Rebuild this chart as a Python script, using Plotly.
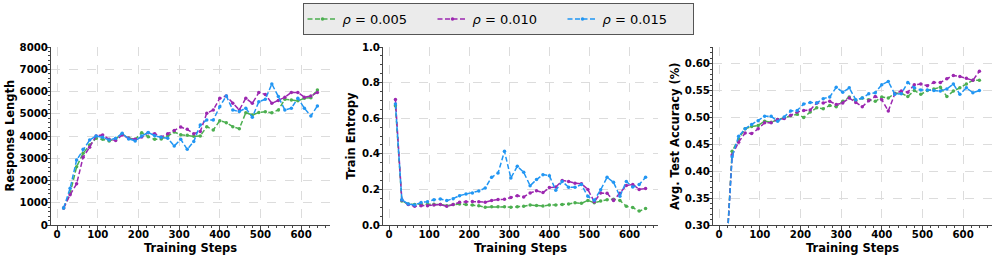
import plotly.graph_objects as go

steps = [16, 32, 48, 64, 80, 96, 112, 128, 144, 160, 176, 192, 208, 224, 240, 256,
         272, 288, 304, 320, 336, 352, 368, 384, 400, 416, 432, 448, 464, 480, 496,
         512, 528, 544, 560, 576, 592, 608, 624, 640]

series_names = ["<i>ρ</i> = 0.005", "<i>ρ</i> = 0.010", "<i>ρ</i> = 0.015"]
series_colors = ["#4CAF50", "#9C27B0", "#2196F3"]

len_005 = [760, 1420, 2620, 3220, 3600, 3900, 3850, 3780, 3880, 4090,
           3910, 3850, 4150, 3970, 3850, 3870, 4000, 4180, 4060, 4030,
           3985, 4000, 4420, 4270, 4690, 4600, 4420, 4330, 5050, 4940,
           5060, 5090, 5050, 5170, 5650, 5620, 5580, 5700, 5720, 6070]
len_010 = [760, 1360, 1850, 3050, 3500, 4000, 4050, 3850, 3800, 4050,
           3900, 3850, 3950, 4150, 4100, 3950, 4100, 4250, 4400, 4300,
           4100, 4200, 5020, 5170, 5700, 5800, 5470, 5170, 5700, 5470,
           5950, 5870, 5470, 5590, 5740, 5960, 5960, 5740, 5800, 5960]
len_015 = [760, 1650, 2920, 3400, 3820, 4000, 3940, 3820, 3900, 4120,
           3870, 3780, 4000, 4160, 4010, 3940, 3900, 3550, 3850, 3400,
           3750, 4500, 4720, 4720, 5320, 5800, 5170, 5100, 5250, 4840,
           5540, 5650, 6340, 5770, 5170, 5250, 5700, 5250, 4900, 5350]

ent_005 = [0.670, 0.135, 0.118, 0.115, 0.117, 0.115, 0.117, 0.115, 0.108, 0.115,
           0.118, 0.115, 0.112, 0.108, 0.100, 0.102, 0.102, 0.102, 0.100, 0.102,
           0.105, 0.112, 0.110, 0.107, 0.112, 0.112, 0.115, 0.118, 0.125, 0.122,
           0.138, 0.125, 0.135, 0.142, 0.145, 0.138, 0.105, 0.098, 0.078, 0.092]
ent_010 = [0.705, 0.140, 0.115, 0.105, 0.108, 0.108, 0.112, 0.115, 0.105, 0.115,
           0.128, 0.130, 0.132, 0.130, 0.128, 0.138, 0.143, 0.145, 0.155, 0.165,
           0.158, 0.180, 0.192, 0.182, 0.210, 0.213, 0.250, 0.245, 0.235, 0.232,
           0.200, 0.130, 0.180, 0.178, 0.138, 0.178, 0.222, 0.228, 0.200, 0.205]
ent_015 = [0.680, 0.142, 0.118, 0.112, 0.127, 0.131, 0.142, 0.146, 0.137, 0.148,
           0.165, 0.174, 0.180, 0.191, 0.208, 0.268, 0.292, 0.414, 0.264, 0.330,
           0.296, 0.221, 0.255, 0.283, 0.277, 0.195, 0.245, 0.212, 0.212, 0.227,
           0.161, 0.139, 0.198, 0.268, 0.240, 0.161, 0.245, 0.213, 0.227, 0.268]

acc_005 = [0.220, 0.437, 0.460, 0.479, 0.483, 0.485, 0.493, 0.491, 0.496, 0.499,
           0.503, 0.506, 0.500, 0.510, 0.518, 0.516, 0.522, 0.520, 0.530, 0.538,
           0.531, 0.536, 0.533, 0.530, 0.538, 0.536, 0.545, 0.545, 0.539, 0.550,
           0.543, 0.550, 0.553, 0.556, 0.539, 0.549, 0.555, 0.562, 0.569, 0.569]
acc_010 = [0.220, 0.430, 0.454, 0.471, 0.470, 0.479, 0.490, 0.490, 0.496, 0.498,
           0.504, 0.510, 0.513, 0.514, 0.527, 0.527, 0.530, 0.524, 0.527, 0.536,
           0.528, 0.520, 0.531, 0.539, 0.533, 0.512, 0.544, 0.549, 0.547, 0.561,
           0.562, 0.559, 0.565, 0.565, 0.572, 0.578, 0.576, 0.573, 0.569, 0.586]
acc_015 = [0.220, 0.427, 0.465, 0.479, 0.487, 0.494, 0.502, 0.502, 0.493, 0.501,
           0.512, 0.513, 0.525, 0.528, 0.527, 0.535, 0.538, 0.556, 0.547, 0.555,
           0.533, 0.536, 0.544, 0.546, 0.561, 0.567, 0.543, 0.544, 0.565, 0.555,
           0.551, 0.551, 0.550, 0.549, 0.553, 0.562, 0.543, 0.555, 0.546, 0.550]

x_title = "Training Steps"
panels = [
    ("Response Length", [len_005, len_010, len_015], [0, 8000], 1000, 200, "d"),
    ("Train Entropy", [ent_005, ent_010, ent_015], [0, 1.0], 0.2, 0.05, ".1f"),
    ("Avg. Test Accuracy (%)", [acc_005, acc_010, acc_015], [0.30, 0.631], 0.05, 0.01, ".2f"),
]

W, H = 996, 258
x_domains = [(51, 330), (383, 658), (713, 992)]
ytitle_x = [9.5, 350.5, 675]
y_top, y_bot = 47, 225
xtitle_y = 247.5

FONT = "DejaVu Sans"
TITLE_FONT = dict(family=FONT, size=11.5, color="black", weight="bold")
fig = go.Figure()
annotations = []

for p, (ytitle, data, yrange, dtick, minor_dtick, fmt) in enumerate(panels):
    ax = "" if p == 0 else str(p + 1)
    for s in range(3):
        fig.add_trace(go.Scatter(
            x=steps, y=data[s], mode="lines+markers",
            name=series_names[s], legendgroup=str(s), showlegend=(p == 0),
            line=dict(color=series_colors[s], width=1.5, dash="5px,2.5px"),
            marker=dict(color=series_colors[s], size=3.5, symbol="circle"),
            xaxis="x" + ax, yaxis="y" + ax,
        ))
    x0, x1 = x_domains[p]
    common = dict(
        showline=True, linecolor="#444", linewidth=1, mirror=False,
        ticks="outside", ticklen=4, tickwidth=1, tickcolor="#444",
        showgrid=True, gridcolor="#dcdcdc", gridwidth=0.8, griddash="dash",
        zeroline=False, automargin=False, ticklabelstandoff=-4,
        tickfont=dict(family=FONT, size=10.2, color="black", weight="bold"),
    )
    fig.layout["xaxis" + ax] = dict(
        common, domain=[x0 / W, x1 / W], anchor="y" + ax,
        range=[-15, 671], dtick=100, tick0=0,
        minor=dict(ticks="outside", ticklen=2, dtick=20, tickcolor="#444", showgrid=False),
    )
    fig.layout["yaxis" + ax] = dict(
        common, domain=[(H - y_bot) / H, (H - y_top) / H], anchor="x" + ax,
        range=yrange, dtick=dtick, tick0=0, tickformat=fmt,
        minor=dict(ticks="outside", ticklen=2, dtick=minor_dtick, tickcolor="#444", showgrid=False),
    )
    annotations.append(dict(
        text=x_title, xref="paper", yref="paper",
        x=(x0 + x1) / 2 / W, y=1 - xtitle_y / H, xanchor="center", yanchor="middle",
        showarrow=False, font=TITLE_FONT,
    ))
    annotations.append(dict(
        text=ytitle, xref="paper", yref="paper", textangle=-90,
        x=ytitle_x[p] / W, y=1 - (y_top + y_bot) / 2 / H, xanchor="center", yanchor="middle",
        showarrow=False, font=TITLE_FONT,
    ))

fig.update_layout(
    width=W, height=H,
    margin=dict(l=0, r=0, t=0, b=0),
    paper_bgcolor="white", plot_bgcolor="white",
    font=dict(family=FONT, color="black"),
    annotations=annotations,
    legend=dict(
        orientation="h", x=0.5, xanchor="center", y=1 - 3 / H, yanchor="top",
        bgcolor="#ebebeb", bordercolor="#555", borderwidth=1,
        font=dict(family=FONT, size=13, color="black"),
        entrywidth=85, entrywidthmode="pixels",
    ),
)

fig.write_html("out.html", config={"displayModeBar": False},
               post_script="document.body.style.margin='0';")
